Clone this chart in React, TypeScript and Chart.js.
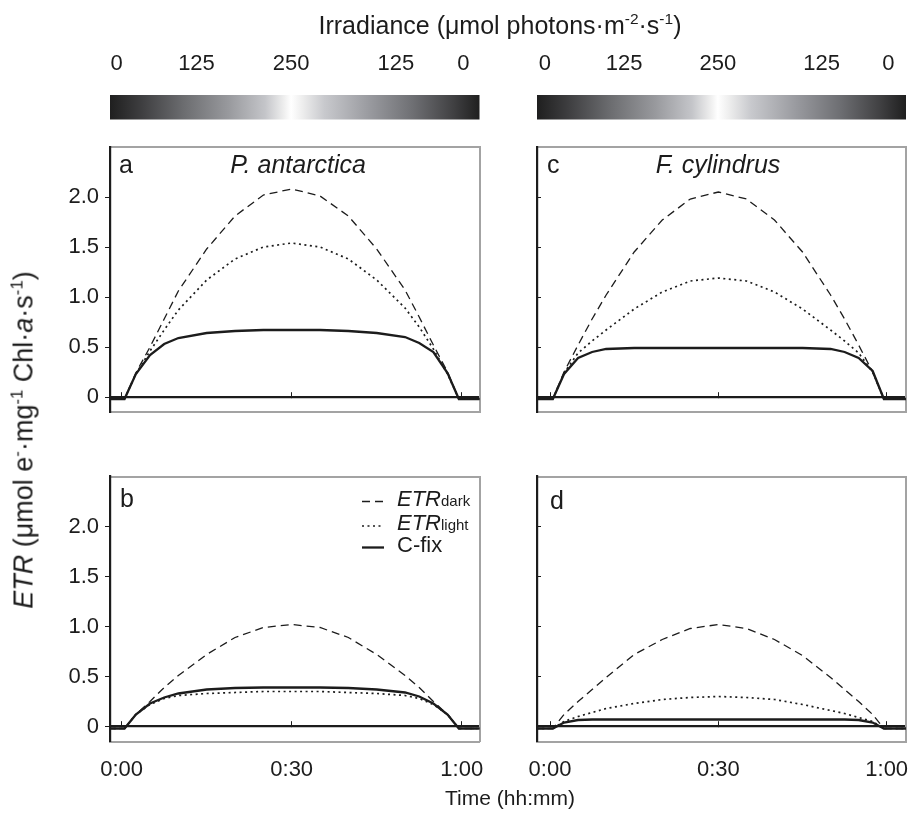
import React, { useEffect, useRef } from "react";
import { Chart, registerables } from "chart.js";

Chart.register(...registerables);

const W = 914;
const H = 816;
const FONT = "'Liberation Sans', Arial, Helvetica, sans-serif";

// time axis (minutes)
const TIME = [-2.4, 0.5, 2.5, 5, 7.5, 10, 15, 20, 25, 30, 35, 40, 45, 50, 52.5, 55, 57.5, 59.5, 63.5];

// a: P. antarctica, high light
const A_DARK = [-0.02, -0.02, 0.24, 0.5, 0.78, 1.06, 1.48, 1.81, 2.02, 2.08, 2.01, 1.81, 1.48, 1.07, 0.8, 0.52, 0.25, -0.02, -0.02];
const A_LIGHT = [-0.02, -0.02, 0.23, 0.46, 0.67, 0.87, 1.17, 1.38, 1.5, 1.54, 1.5, 1.38, 1.17, 0.89, 0.7, 0.48, 0.23, -0.02, -0.02];
const A_CFIX = [-0.02, -0.02, 0.23, 0.42, 0.53, 0.59, 0.64, 0.66, 0.67, 0.67, 0.67, 0.66, 0.64, 0.6, 0.54, 0.45, 0.24, -0.02, -0.02];

// c: F. cylindrus, high light
const C_DARK = [-0.02, -0.02, 0.25, 0.52, 0.78, 1.02, 1.45, 1.77, 1.98, 2.05, 1.98, 1.77, 1.45, 1.02, 0.78, 0.52, 0.25, -0.02, -0.02];
const C_LIGHT = [-0.02, -0.02, 0.24, 0.44, 0.56, 0.67, 0.88, 1.05, 1.16, 1.19, 1.16, 1.05, 0.88, 0.67, 0.56, 0.44, 0.25, -0.02, -0.02];
const C_CFIX = [-0.02, -0.02, 0.23, 0.39, 0.45, 0.48, 0.49, 0.49, 0.49, 0.49, 0.49, 0.49, 0.49, 0.48, 0.45, 0.39, 0.26, -0.02, -0.02];

// b: P. antarctica, low light
const B_DARK = [-0.02, -0.02, 0.12, 0.25, 0.39, 0.51, 0.72, 0.89, 0.99, 1.02, 0.99, 0.89, 0.72, 0.51, 0.39, 0.25, 0.12, -0.02, -0.02];
const B_LIGHT = [-0.02, -0.02, 0.12, 0.22, 0.28, 0.31, 0.33, 0.34, 0.35, 0.35, 0.35, 0.34, 0.33, 0.31, 0.28, 0.22, 0.12, -0.02, -0.02];
const B_CFIX = [-0.02, -0.02, 0.12, 0.23, 0.29, 0.33, 0.37, 0.385, 0.39, 0.39, 0.39, 0.385, 0.37, 0.34, 0.3, 0.23, 0.12, -0.02, -0.02];

// d: F. cylindrus, low light
const D_DARK = [-0.02, -0.02, 0.12, 0.25, 0.37, 0.49, 0.72, 0.87, 0.98, 1.02, 0.98, 0.87, 0.71, 0.49, 0.37, 0.25, 0.12, -0.02, -0.02];
const D_LIGHT = [-0.02, -0.02, 0.05, 0.1, 0.14, 0.18, 0.23, 0.27, 0.29, 0.3, 0.29, 0.27, 0.22, 0.16, 0.13, 0.09, 0.05, -0.02, -0.02];
const D_CFIX = [-0.02, -0.02, 0.04, 0.065, 0.07, 0.07, 0.07, 0.07, 0.07, 0.07, 0.07, 0.07, 0.07, 0.07, 0.07, 0.065, 0.04, -0.02, -0.02];

const Y_TICKS = [0, 0.5, 1.0, 1.5, 2.0];
const Y_TICK_LABELS = ["0", "0.5", "1.0", "1.5", "2.0"];
const X_TICKS = [0, 30, 60];
const X_TICK_LABELS = ["0:00", "0:30", "1:00"];
const IRR_TICK_POS = [-0.9, 13.2, 29.9, 48.4, 60.3];
const IRR_TICK_LABELS = ["0", "125", "250", "125", "0"];

const BLACK = "#1c1c1c";
const FRAME = "#a3a3a3";

// fixed sizes for axis boxes (so plot areas land exactly)
const Y_AXIS_W = 60;
const TOP_AXIS_H = 110;
const BOTTOM_AXIS_H = 45;

type PanelCfg = {
  key: string;
  l: number; t: number; r: number; b: number;
  xMin: number; xMax: number;
  yLabels: boolean; xLabels: boolean; irr: boolean; legend: boolean;
  dark: number[]; light: number[]; cfix: number[];
};

const PANELS: PanelCfg[] = [
  { key: "a", l: 110, t: 147, r: 479.5, b: 412, xMin: -2.06, xMax: 63.14, yLabels: true, xLabels: false, irr: true, legend: false, dark: A_DARK, light: A_LIGHT, cfix: A_CFIX },
  { key: "c", l: 537, t: 147, r: 906, b: 412, xMin: -2.32, xMax: 63.44, yLabels: false, xLabels: false, irr: true, legend: false, dark: C_DARK, light: C_LIGHT, cfix: C_CFIX },
  { key: "b", l: 110, t: 476.5, r: 479.5, b: 741.5, xMin: -2.06, xMax: 63.14, yLabels: true, xLabels: true, irr: false, legend: true, dark: B_DARK, light: B_LIGHT, cfix: B_CFIX },
  { key: "d", l: 537, t: 476.5, r: 906, b: 741.5, xMin: -2.32, xMax: 63.44, yLabels: false, xLabels: true, irr: false, legend: false, dark: D_DARK, light: D_LIGHT, cfix: D_CFIX },
];

const gradientBarPlugin = {
  id: "gradientBar",
  beforeDraw(chart: any, _args: any, opts: any) {
    if (!opts || !opts.show) return;
    const { ctx, chartArea } = chart;
    const g = ctx.createLinearGradient(chartArea.left, 0, chartArea.right, 0);
    const stops: [number, string][] = [
      [0, "#1f1f1f"], [0.08, "#3c3c3e"], [0.2, "#6c6d70"], [0.32, "#98999d"],
      [0.42, "#c4c5c9"], [0.47, "#eeeeee"], [0.49, "#ffffff"], [0.52, "#eeeeee"],
      [0.58, "#c8c9cd"], [0.7, "#9a9ba0"], [0.82, "#6e6f73"], [0.93, "#404042"], [1, "#1f1f1f"],
    ];
    stops.forEach(([p, c]) => g.addColorStop(p, c));
    ctx.save();
    ctx.fillStyle = g;
    ctx.fillRect(chartArea.left, opts.top, chartArea.right - chartArea.left, opts.bottom - opts.top);
    ctx.restore();
  },
};

const legendSamplePlugin = {
  id: "legendSamples",
  afterDatasetsDraw(chart: any, _args: any, opts: any) {
    if (!opts || !opts.show) return;
    const { ctx } = chart;
    chart.data.datasets.forEach((ds: any, i: number) => {
      const y = opts.rows[i];
      ctx.save();
      ctx.strokeStyle = ds.borderColor;
      ctx.lineWidth = ds.borderWidth;
      ctx.setLineDash(ds.borderDash || []);
      ctx.beginPath();
      ctx.moveTo(opts.x1, y);
      ctx.lineTo(opts.x2, y);
      ctx.stroke();
      ctx.restore();
    });
  },
};

function buildChart(canvas: HTMLCanvasElement, p: PanelCfg) {
  const pts = (vals: number[]) => TIME.map((t, i) => ({ x: t, y: vals[i] }));
  const fit = (w: number | null, h: number | null) => (s: any) => {
    if (w !== null) s.width = w;
    if (h !== null) s.height = h;
    s.paddingLeft = 0; s.paddingRight = 0; s.paddingTop = 0; s.paddingBottom = 0;
  };
  const tickFont = { family: FONT, size: 22 };
  return new Chart(canvas, {
    type: "line",
    data: {
      datasets: [
        { label: "ETRdark", data: pts(p.dark), borderColor: BLACK, borderWidth: 1.3, borderDash: [8, 5], pointRadius: 0, tension: 0, fill: false, clip: 0, xAxisID: "x", yAxisID: "y" },
        { label: "ETRlight", data: pts(p.light), borderColor: BLACK, borderWidth: 1.7, borderDash: [2, 3.5], pointRadius: 0, tension: 0, fill: false, clip: 0, xAxisID: "x", yAxisID: "y" },
        { label: "C-fix", data: pts(p.cfix), borderColor: BLACK, borderWidth: 2.3, pointRadius: 0, tension: 0, fill: false, clip: 0, xAxisID: "x", yAxisID: "y" },
      ] as any,
    },
    options: {
      responsive: false,
      animation: false,
      events: [],
      layout: {
        padding: {
          left: p.l - Y_AXIS_W,
          top: p.t - TOP_AXIS_H,
          right: W - p.r,
          bottom: H - p.b - BOTTOM_AXIS_H,
        },
      },
      plugins: {
        legend: { display: false },
        tooltip: { enabled: false },
        gradientBar: { show: p.irr, top: 95, bottom: 119.5 },
        legendSamples: { show: p.legend, x1: 362, x2: 384, rows: [501.5, 526, 547.5] },
      } as any,
      scales: {
        x: {
          type: "linear", min: p.xMin, max: p.xMax, position: { y: 0 } as any,
          afterFit: fit(null, 0),
          afterBuildTicks: (s: any) => { s.ticks = X_TICKS.map((v) => ({ value: v })); },
          ticks: { display: false },
          grid: { drawOnChartArea: false, drawTicks: true, tickLength: -6, color: BLACK, lineWidth: 1 },
          border: { display: true, color: BLACK, width: 2.2 },
        },
        xb: {
          type: "linear", min: p.xMin, max: p.xMax, position: "bottom",
          afterFit: fit(null, BOTTOM_AXIS_H),
          afterBuildTicks: (s: any) => { s.ticks = X_TICKS.map((v) => ({ value: v })); },
          ticks: { display: p.xLabels, autoSkip: false, maxRotation: 0, minRotation: 0, padding: 7, color: BLACK, font: tickFont, callback: (_v: any, i: number) => X_TICK_LABELS[i] },
          grid: { display: false },
          border: { display: true, color: FRAME, width: 2 },
        },
        xt: {
          type: "linear", min: p.xMin, max: p.xMax, position: "top",
          afterFit: fit(null, TOP_AXIS_H),
          afterBuildTicks: (s: any) => { s.ticks = IRR_TICK_POS.map((v) => ({ value: v })); },
          ticks: { display: p.irr, autoSkip: false, maxRotation: 0, minRotation: 0, padding: 62, color: BLACK, font: tickFont, callback: (_v: any, i: number) => IRR_TICK_LABELS[i] },
          grid: { display: false },
          border: { display: true, color: FRAME, width: 2 },
        },
        y: {
          type: "linear", min: -0.15, max: 2.5, position: "left",
          afterFit: fit(Y_AXIS_W, null),
          afterBuildTicks: (s: any) => { s.ticks = Y_TICKS.map((v) => ({ value: v })); },
          ticks: { display: p.yLabels, autoSkip: false, padding: 6, color: BLACK, font: tickFont, callback: (_v: any, i: number) => Y_TICK_LABELS[i] },
          grid: { drawOnChartArea: false, drawTicks: true, tickLength: p.yLabels ? 5 : -4, color: BLACK, lineWidth: 1 },
          border: { display: true, color: BLACK, width: 2.2 },
        },
        yr: {
          type: "linear", min: -0.15, max: 2.5, position: "right",
          afterFit: fit(0, null),
          ticks: { display: false },
          grid: { display: false },
          border: { display: true, color: FRAME, width: 2 },
        },
      } as any,
    },
    plugins: [gradientBarPlugin, legendSamplePlugin],
  } as any);
}

function Panel({ cfg }: { cfg: PanelCfg }) {
  const ref = useRef<HTMLCanvasElement | null>(null);
  useEffect(() => {
    if (!ref.current) return;
    const chart = buildChart(ref.current, cfg);
    return () => chart.destroy();
  }, [cfg]);
  return <canvas ref={ref} width={W} height={H} style={{ position: "absolute", left: 0, top: 0, width: W, height: H }} />;
}

const sup: React.CSSProperties = { fontSize: "0.62em", verticalAlign: "0.6em", lineHeight: 0 };

function Base({ x, y, size, center, children, italic }: { x: number; y: number; size: number; center?: boolean; children: React.ReactNode; italic?: boolean }) {
  return (
    <div
      style={{
        position: "absolute", left: x, top: y - 0.8465 * size, fontSize: size, lineHeight: 1,
        fontFamily: FONT, color: BLACK, whiteSpace: "nowrap", fontStyle: italic ? "italic" : "normal",
        transform: center ? "translateX(-50%)" : undefined,
      }}
    >
      {children}
    </div>
  );
}

function Centered({ x, y, size, rotate, children }: { x: number; y: number; size: number; rotate?: boolean; children: React.ReactNode }) {
  return (
    <div
      style={{
        position: "absolute", left: x, top: y, fontSize: size, lineHeight: 1, fontFamily: FONT, color: BLACK,
        whiteSpace: "nowrap", transform: `translate(-50%, -50%)${rotate ? " rotate(-90deg)" : ""}`,
      }}
    >
      {children}
    </div>
  );
}

export default function App() {
  useEffect(() => {
    document.body.style.margin = "0";
  }, []);
  return (
    <div style={{ position: "absolute", left: 0, top: 0, width: W, height: H, background: "#ffffff", overflow: "hidden" }}>
      {PANELS.map((p) => (
        <Panel key={p.key} cfg={p} />
      ))}
      <Centered x={500} y={25} size={25}>
        Irradiance (μmol photons·m<span style={sup}>-2</span>·s<span style={sup}>-1</span>)
      </Centered>
      <Centered x={510} y={797} size={21}>Time (hh:mm)</Centered>
      <Centered x={24} y={440} size={27} rotate>
        <i>ETR</i> (μmol e<span style={sup}>-</span>·mg<span style={sup}>-1</span> Chl·<i>a</i>·s<span style={sup}>-1</span>)
      </Centered>

      <Base x={119} y={173} size={25}>a</Base>
      <Base x={298} y={173} size={25} center italic>P. antarctica</Base>
      <Base x={547} y={173} size={25}>c</Base>
      <Base x={718} y={173} size={25} center italic>F. cylindrus</Base>
      <Base x={120} y={507} size={25}>b</Base>
      <Base x={550} y={509} size={25}>d</Base>

      <Base x={397} y={507} size={22}>
        <i>ETR</i><span style={{ fontSize: 15 }}>dark</span>
      </Base>
      <Base x={397} y={531} size={22}>
        <i>ETR</i><span style={{ fontSize: 15 }}>light</span>
      </Base>
      <Base x={397} y={553} size={22}>C-fix</Base>
    </div>
  );
}
